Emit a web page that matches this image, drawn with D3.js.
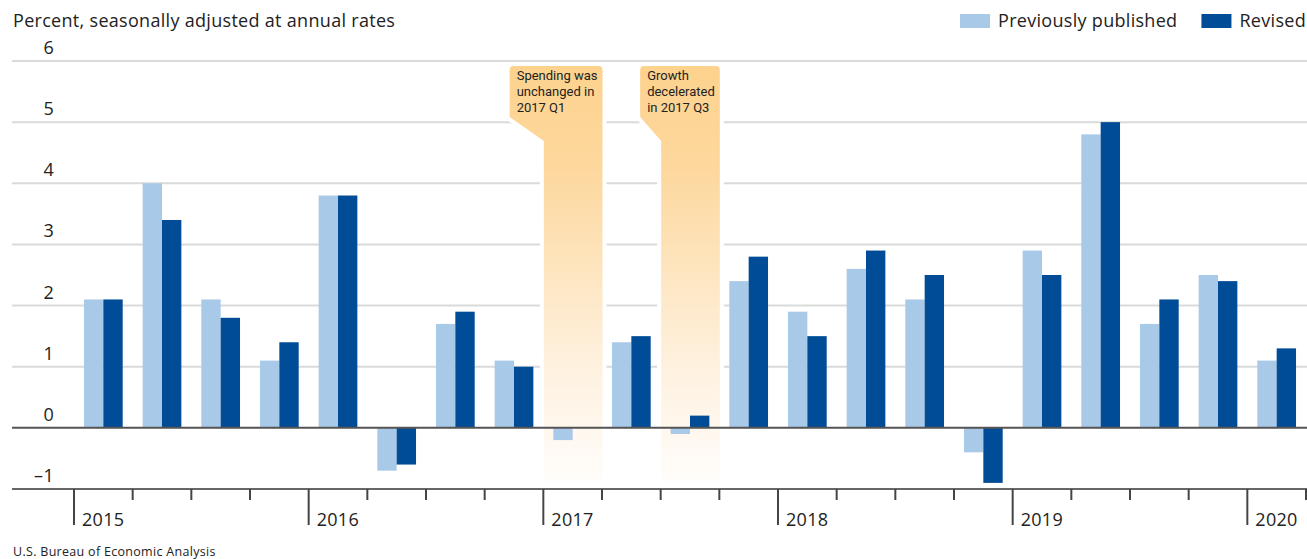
<!DOCTYPE html>
<html>
<head>
<meta charset="utf-8">
<script src="https://cdn.jsdelivr.net/npm/d3@7"></script>
<style>
  body { margin: 0; background: #fff; }
  svg { display: block; }
  text { font-family: 'Open Sans', 'Noto Sans', sans-serif; fill: #222; letter-spacing: 0.3px; }
  .note { font-family: 'Liberation Sans Narrow', 'Roboto', sans-serif; letter-spacing: 0; }
</style>
</head>
<body>
<svg id="chart" width="1307" height="559"></svg>
<script>
// Quarterly real consumer spending growth, percent at annual rates
const quarters = [
  "2015Q1","2015Q2","2015Q3","2015Q4",
  "2016Q1","2016Q2","2016Q3","2016Q4",
  "2017Q1","2017Q2","2017Q3","2017Q4",
  "2018Q1","2018Q2","2018Q3","2018Q4",
  "2019Q1","2019Q2","2019Q3","2019Q4",
  "2020Q1"
];
const previouslyPublished = [2.1, 4.0, 2.1, 1.1, 3.8, -0.7, 1.7, 1.1, -0.2, 1.4, -0.1, 2.4, 1.9, 2.6, 2.1, -0.4, 2.9, 4.8, 1.7, 2.5, 1.1];
const revised             = [2.1, 3.4, 1.8, 1.4, 3.8, -0.6, 1.9, 1.0,  0.0, 1.5,  0.2, 2.8, 1.5, 2.9, 2.5, -0.9, 2.5, 5.0, 2.1, 2.4, 1.3];
const seriesNames = ["Previously published", "Revised"];
const seriesColors = ["#a9c9e9", "#004c97"];
const yearLabels = ["2015", "2016", "2017", "2018", "2019", "2020"];
const yTicks = [-1, 0, 1, 2, 3, 4, 5, 6];
const callouts = [
  { quarter: "2017Q1", lines: ["Spending was", "unchanged in", "2017 Q1"] },
  { quarter: "2017Q3", lines: ["Growth", "decelerated", "in 2017 Q3"] }
];

const svg = d3.select("#chart");
const plotLeft = 12, plotRight = 1307;
const axisLeft = 74, axisRight = 1306;
const yTop = 61, yBottom = 489;
const labelSize = 18;

const x = d3.scaleBand().domain(quarters).range([axisLeft, axisRight])
  .paddingInner(0.34).paddingOuter(0.17);
const xStep = x.step();
const xQ = q => axisLeft + quarters.indexOf(q) * xStep; // quarter start
const xSub = d3.scaleBand().domain(seriesNames).range([0, x.bandwidth()]);
const y = d3.scaleLinear().domain([-1, 6]).range([yBottom, yTop]);

// Gridlines
svg.append("g").selectAll("line").data(yTicks.filter(t => t > -1 && t !== 0)).join("line")
  .attr("x1", plotLeft).attr("x2", plotRight)
  .attr("y1", d => y(d)).attr("y2", d => y(d))
  .attr("stroke", "#d9dbdb").attr("stroke-width", 2);

// Callout bands
const defs = svg.append("defs");
const grad = defs.append("linearGradient").attr("id", "bandFade")
  .attr("gradientUnits", "userSpaceOnUse")
  .attr("x1", 0).attr("x2", 0).attr("y1", 66).attr("y2", y(-0.88));
grad.append("stop").attr("offset", 0).attr("stop-color", "#fdd28d");
grad.append("stop").attr("offset", 0.25).attr("stop-color", "#fdd89e");
grad.append("stop").attr("offset", 0.7).attr("stop-color", "#fef0dc");
grad.append("stop").attr("offset", 1).attr("stop-color", "#fffdfb");

const noteG = svg.append("g");
callouts.forEach(c => {
  const g = noteG.append("g");
  const bandL = xQ(c.quarter) + 0.5, bandR = xQ(c.quarter) + xStep + 0.5;
  const top = 66, boxBottom = 117, slopeEnd = 141, bottom = y(-0.88);
  const tmp = g.append("text").attr("class", "note").attr("font-size", 13).text("");
  let maxW = 0;
  c.lines.forEach(l => { tmp.text(l); maxW = Math.max(maxW, tmp.node().getComputedTextLength()); });
  tmp.remove();
  const boxL = bandR - maxW - 12;
  const r = 4;
  const p = d3.path();
  p.moveTo(boxL, top + r);
  p.quadraticCurveTo(boxL, top, boxL + r, top);
  p.lineTo(bandR - r, top);
  p.quadraticCurveTo(bandR, top, bandR, top + r);
  p.lineTo(bandR, bottom);
  p.lineTo(bandL, bottom);
  p.lineTo(bandL, slopeEnd);
  p.lineTo(boxL, boxBottom);
  p.closePath();
  g.append("path").attr("d", p.toString()).attr("fill", "#fff")
    .attr("stroke", "#fff").attr("stroke-width", 8).attr("stroke-linejoin", "round");
  g.append("path").attr("d", p.toString()).attr("fill", "url(#bandFade)");
  g.selectAll("text.note").data(c.lines).join("text").attr("class", "note")
    .attr("x", boxL + 7).attr("y", (d, i) => 80 + i * 16)
    .attr("font-size", 13).attr("fill", "#1a1a1a").text(d => d);
});

// Bars
const bars = svg.append("g");
quarters.forEach((q, i) => {
  [previouslyPublished[i], revised[i]].forEach((v, s) => {
    if (v === 0) return;
    bars.append("rect")
      .attr("x", x(q) + xSub(seriesNames[s]))
      .attr("width", xSub.bandwidth())
      .attr("y", y(Math.max(0, v)))
      .attr("height", Math.abs(y(v) - y(0)))
      .attr("fill", seriesColors[s]);
  });
});

// Zero line and bottom axis line
svg.append("line").attr("x1", plotLeft).attr("x2", plotRight)
  .attr("y1", y(0)).attr("y2", y(0)).attr("stroke", "#555").attr("stroke-width", 2);
svg.append("line").attr("x1", plotLeft).attr("x2", plotRight)
  .attr("y1", y(-1)).attr("y2", y(-1)).attr("stroke", "#666").attr("stroke-width", 2);

// Y tick labels, sitting just above their gridlines
svg.append("g").selectAll("text").data(yTicks).join("text")
  .attr("x", 54).attr("y", d => y(d) - 7)
  .attr("text-anchor", "end").attr("font-size", labelSize)
  .text(d => d < 0 ? "\u2013" + Math.abs(d) : d);

// Quarter and year ticks
const tickPos = d3.range(quarters.length + 1).map(i => ({ x: axisLeft + i * xStep, year: i % 4 === 0 }));
svg.append("g").selectAll("line").data(tickPos).join("line")
  .attr("x1", d => d.x).attr("x2", d => d.x)
  .attr("y1", y(-1)).attr("y2", d => d.year ? y(-1) + 36 : y(-1) + 11)
  .attr("stroke", "#444").attr("stroke-width", 2);
svg.append("g").selectAll("text").data(yearLabels).join("text")
  .attr("x", (d, i) => axisLeft + i * 4 * xStep + 8).attr("y", 526)
  .attr("font-size", labelSize).text(d => d);

// Unit label
svg.append("text").attr("x", 13).attr("y", 27).attr("font-size", labelSize)
  .text("Percent, seasonally adjusted at annual rates");

// Legend
const legendRight = 1306;
const legend = svg.append("g");
let cursor = legendRight;
[...seriesNames].reverse().forEach(name => {
  const s = seriesNames.indexOf(name);
  const t = legend.append("text").attr("y", 27).attr("font-size", labelSize).text(name);
  const w = t.node().getComputedTextLength();
  t.attr("x", cursor - w);
  legend.append("rect").attr("x", cursor - w - 38).attr("y", 14).attr("width", 30).attr("height", 14)
    .attr("fill", seriesColors[s]);
  cursor = cursor - w - 38 - 24;
});

// Source
svg.append("text").attr("x", 13).attr("y", 556).attr("font-size", 12.5).attr("fill", "#444")
  .text("U.S. Bureau of Economic Analysis");
</script>
</body>
</html>
